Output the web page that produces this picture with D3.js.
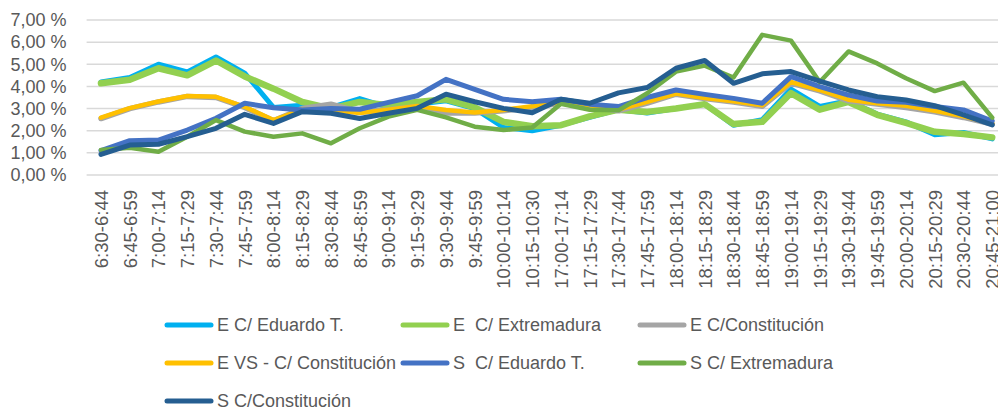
<!DOCTYPE html>
<html>
<head>
<meta charset="utf-8">
<script src="https://cdn.jsdelivr.net/npm/d3@7"></script>
<style>
  html, body { margin: 0; padding: 0; background: #fff; overflow: hidden; }
  svg { display: block; font-family: "Liberation Sans", Arial, sans-serif; }
</style>
</head>
<body>
<svg id="chart" width="998" height="412"></svg>
<script>
const categories = ["6:30-6:44","6:45-6:59","7:00-7:14","7:15-7:29","7:30-7:44","7:45-7:59","8:00-8:14","8:15-8:29","8:30-8:44","8:45-8:59","9:00-9:14","9:15-9:29","9:30-9:44","9:45-9:59","10:00-10:14","10:15-10:30","17:00-17:14","17:15-17:29","17:30-17:44","17:45-17:59","18:00-18:14","18:15-18:29","18:30-18:44","18:45-18:59","19:00-19:14","19:15-19:29","19:30-19:44","19:45-19:59","20:00-20:14","20:15-20:29","20:30-20:44","20:45-21:00"];

const seriesNames = ["E C/ Eduardo T.", "E  C/ Extremadura", "E C/Constitución", "E VS - C/ Constitución", "S  C/ Eduardo T.", "S C/ Extremadura", "S C/Constitución"];

const eEduardo     = [4.20,4.40,5.00,4.65,5.33,4.60,3.05,3.15,3.05,3.45,3.05,3.20,3.35,3.00,2.15,2.00,2.25,2.60,2.95,2.80,3.00,3.20,2.25,2.50,3.88,3.10,3.35,2.75,2.40,1.82,1.92,1.63];
const eExtremadura = [4.14,4.30,4.82,4.50,5.17,4.45,3.90,3.30,3.00,3.30,3.15,3.30,3.42,3.05,2.40,2.20,2.25,2.65,2.95,2.85,3.00,3.20,2.30,2.40,3.70,2.95,3.30,2.72,2.35,1.95,1.85,1.70];
const eConst       = [2.55,3.00,3.30,3.55,3.50,3.05,2.45,3.00,3.20,2.85,2.95,3.10,2.80,2.80,2.90,3.05,3.25,3.10,2.90,3.25,3.65,3.45,3.30,3.10,4.15,3.80,3.35,3.20,3.05,2.85,2.60,2.30];
const eVsConst     = [2.59,3.02,3.32,3.57,3.53,3.08,2.48,2.95,2.94,2.80,2.95,3.12,2.94,2.82,2.94,3.10,3.30,3.15,2.95,3.30,3.68,3.48,3.33,3.15,4.20,3.84,3.40,3.24,3.13,2.90,2.65,2.33];
const sEduardo     = [1.10,1.55,1.58,2.03,2.56,3.24,3.04,2.94,3.00,2.97,3.28,3.58,4.32,3.87,3.42,3.31,3.42,3.20,3.09,3.50,3.84,3.64,3.46,3.24,4.44,3.99,3.61,3.34,3.28,3.09,2.94,2.44];
const sExtremadura = [1.13,1.23,1.05,1.73,2.48,1.96,1.73,1.88,1.43,2.11,2.64,2.94,2.60,2.18,2.03,2.15,3.22,2.95,2.92,3.69,4.67,4.94,4.40,6.33,6.07,4.20,5.58,5.04,4.37,3.79,4.17,2.59];
const sConst       = [0.93,1.35,1.39,1.73,2.11,2.74,2.33,2.86,2.79,2.55,2.79,3.01,3.65,3.31,3.01,2.81,3.42,3.24,3.71,3.95,4.82,5.17,4.14,4.57,4.67,4.24,3.84,3.54,3.39,3.13,2.71,2.26];

const yTicks = [0,1,2,3,4,5,6,7];
const yTickLabels = ["0,00 %","1,00 %","2,00 %","3,00 %","4,00 %","5,00 %","6,00 %","7,00 %"];

const allValues = [eEduardo, eExtremadura, eConst, eVsConst, sEduardo, sExtremadura, sConst];
const colors = ["#00B0F0","#92D050","#A5A5A5","#FFC000","#4472C4","#70AD47","#255E91"];
const widths = [5, 6.5, 5.5, 4.5, 5, 4.5, 5];

const svg = d3.select("#chart");
const plotLeft = 86.6, step = 28.75;
const plotRight = plotLeft + categories.length * step;
const plotTop = 20, plotBottom = 175;

const x = d3.scalePoint().domain(categories).range([plotLeft, plotRight]).padding(0.5);
const y = d3.scaleLinear().domain([0, 7]).range([plotBottom, plotTop]);

// gridlines
svg.append("g").selectAll("line").data(yTicks).join("line")
  .attr("x1", plotLeft).attr("x2", 998)
  .attr("y1", d => y(d)).attr("y2", d => y(d))
  .attr("stroke", "#D9D9D9").attr("stroke-width", 1.5);

// y axis
const yAxis = svg.append("g").attr("transform", `translate(${plotLeft},0)`)
  .call(d3.axisLeft(y).tickValues(yTicks).tickSize(0).tickPadding(20)
    .tickFormat(d => yTickLabels[yTicks.indexOf(d)]));
yAxis.select(".domain").remove();
yAxis.selectAll("text").attr("font-size", 18).attr("fill", "#595959")
  .attr("font-family", "'Liberation Sans', Arial, sans-serif");

// x axis
const xAxis = svg.append("g").attr("transform", `translate(0,${plotBottom})`)
  .call(d3.axisBottom(x).tickSize(0));
xAxis.select(".domain").remove();
xAxis.selectAll("text")
  .attr("font-size", 18.5).attr("fill", "#595959")
  .attr("font-family", "'Liberation Sans', Arial, sans-serif")
  .attr("text-anchor", "end")
  .attr("transform", "rotate(-90)")
  .attr("x", -15).attr("y", 0).attr("dy", "0.35em");

// lines
const line = d3.line().x((d, i) => x(categories[i])).y(d => y(d));
allValues.forEach((vals, k) => {
  svg.append("path").datum(vals)
    .attr("d", line)
    .attr("fill", "none")
    .attr("stroke", colors[k])
    .attr("stroke-width", widths[k])
    .attr("stroke-linejoin", "round")
    .attr("stroke-linecap", "round");
});

// legend
const legendCols = [165, 401, 638];
const legendRows = [325, 363, 401];
const legend = svg.append("g");
seriesNames.forEach((name, k) => {
  const cx = legendCols[k % 3], cy = legendRows[Math.floor(k / 3)];
  legend.append("line")
    .attr("x1", cx + 2).attr("x2", cx + 46).attr("y1", cy).attr("y2", cy)
    .attr("stroke", colors[k]).attr("stroke-width", 5).attr("stroke-linecap", "round");
  legend.append("text")
    .attr("x", cx + 52).attr("y", cy).attr("dy", "0.35em")
    .attr("font-size", 18).attr("fill", "#595959")
    .style("white-space", "pre")
    .text(name);
});
</script>
</body>
</html>
